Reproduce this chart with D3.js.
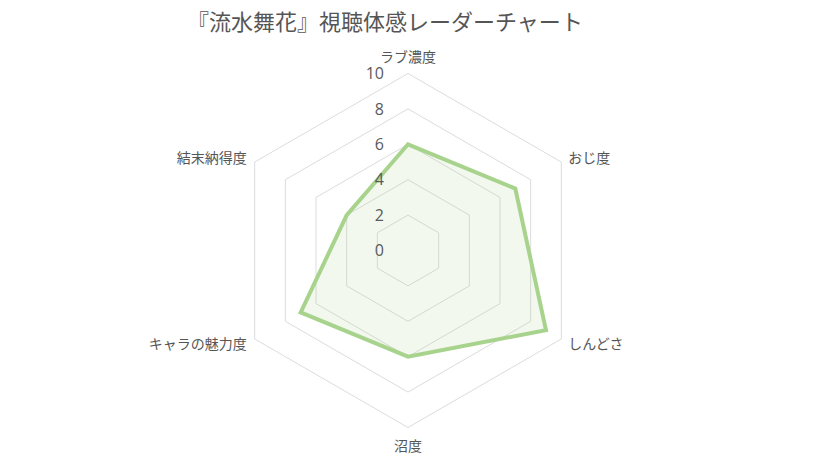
<!DOCTYPE html>
<html><head><meta charset="utf-8">
<script src="https://cdn.jsdelivr.net/npm/d3@7"></script>
<style>body{margin:0;background:#fff;} svg{display:block;font-family:"Noto Sans CJK JP","Noto Sans",sans-serif;}</style>
</head><body>
<svg id="c" width="829" height="456"></svg>
<script>
const title = "『流水舞花』視聴体感レーダーチャート";
const categories = ["ラブ濃度","おじ度","しんどさ","沼度","キャラの魅力度","結末納得度"];
const values = [6,7,9,6,7,4];
const tickValues = [0,2,4,6,8,10];
const gridLevels = [2,4,6,8,10];

const svg = d3.select("#c");
const cx = 408, cy = 250.5, R = 177;
const r = d3.scaleLinear().domain([0,10]).range([0,R]);
const n = categories.length;
const ang = i => -Math.PI/2 + i*2*Math.PI/n;
const pt = (i,v) => [cx + r(v)*Math.cos(ang(i)), cy + r(v)*Math.sin(ang(i))];

svg.append("text").attr("x",385).attr("y",22).attr("dy","0.36em").attr("text-anchor","middle")
  .attr("font-size",22).attr("fill","#555").text(title);

const line = d3.line().curve(d3.curveLinearClosed);
svg.selectAll(".grid").data(gridLevels).join("path")
  .attr("d", lv => line(categories.map((c,i)=>pt(i,lv))))
  .attr("fill","none").attr("stroke","#dcdcdc").attr("stroke-width",1);

svg.append("path").attr("d", line(values.map((v,i)=>pt(i,v))))
  .attr("fill","rgba(165,210,140,0.15)").attr("stroke","#a8d38d").attr("stroke-width",4)
  .attr("stroke-linejoin","miter");

svg.selectAll(".tick").data(tickValues).join("text")
  .attr("x",384).attr("y",d=>cy - r(d)).attr("dy","0.36em")
  .attr("text-anchor","end").attr("font-size",16).attr("fill","#5a5a5a")
  .attr("font-family","'Open Sans',sans-serif").text(d=>d);

svg.selectAll(".lab").data(categories).join("text")
  .attr("x",(d,i)=>{const p=pt(i,10); const c=Math.cos(ang(i)); return p[0] + (Math.abs(c)<0.01?0:(c>0?7:-8));})
  .attr("y",(d,i)=>{const p=pt(i,10); const s=Math.sin(ang(i)); return p[1] + (Math.abs(Math.cos(ang(i)))<0.01 ? (s<0?-17:18) : (s<0?-4.5:4.5));})
  .attr("dy","0.36em")
  .attr("text-anchor",(d,i)=>{const c=Math.cos(ang(i)); return Math.abs(c)<0.01?"middle":(c>0?"start":"end");})
  .attr("font-size",14).attr("fill","#555").text(d=>d);
</script>
</body></html>
